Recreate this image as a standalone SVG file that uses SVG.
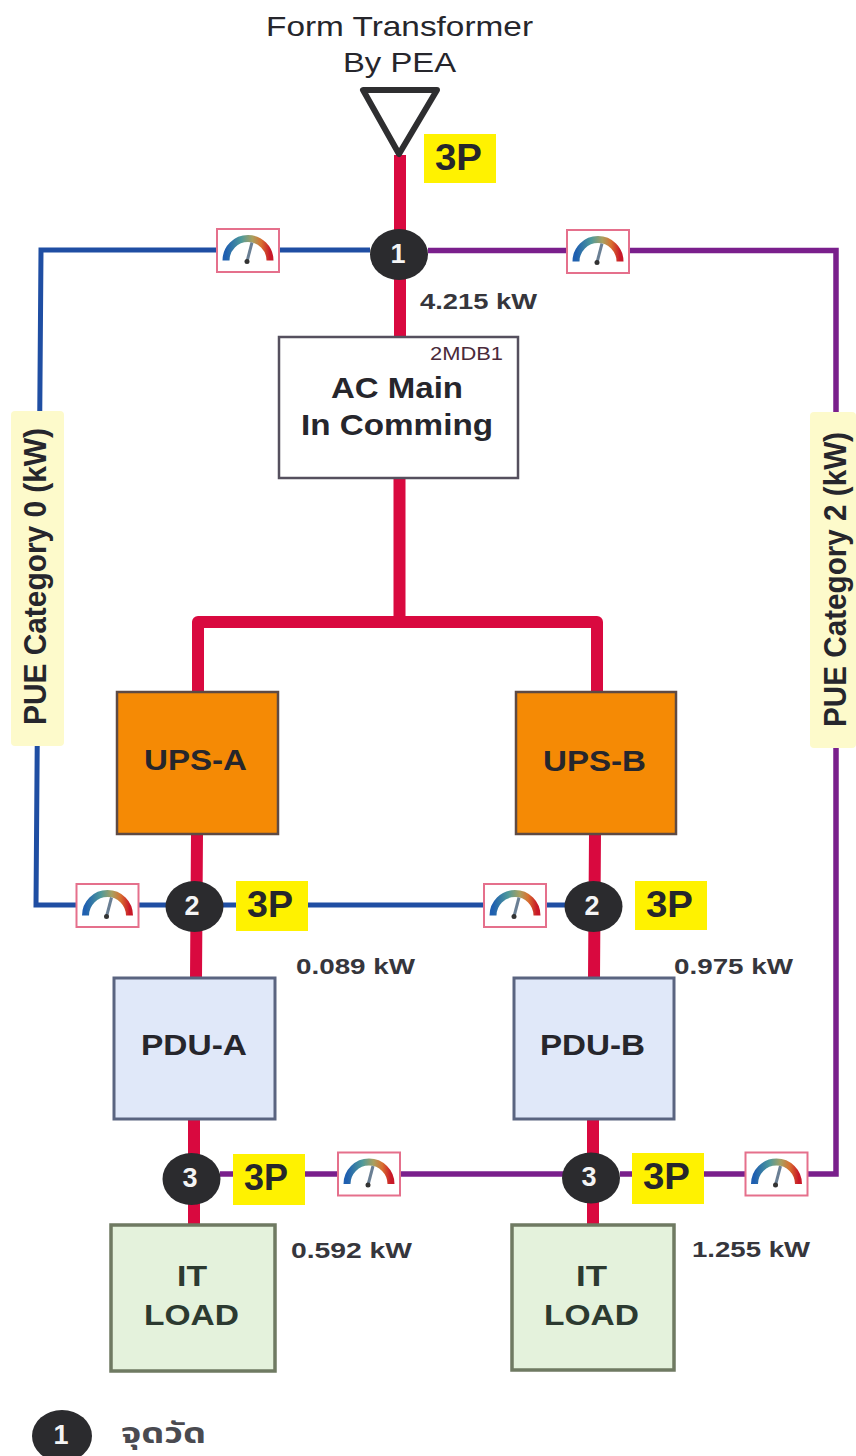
<svg xmlns="http://www.w3.org/2000/svg" width="856" height="1456" viewBox="0 0 856 1456">
<style>
text{font-family:"Liberation Sans",Arial,sans-serif;fill:#26262c}
.b{font-weight:700}
.p{stroke:#d9093f;stroke-width:12;fill:none;stroke-linejoin:round}
.bl{stroke:#1f4ea3;stroke-width:5;fill:none}
.pu{stroke:#7a1f8c;stroke-width:5.500;fill:none}
.c{fill:#2b2b2e}
.n{fill:#f4f4f4;font-size:27px;font-weight:700;text-anchor:middle}
.t3{font-size:36px;font-weight:700}
.y{fill:#fff200}
.kw{font-size:22px;font-weight:700;fill:#36363c}
.lab{font-size:30px;font-weight:700}
.node{font-size:29px;font-weight:700}
.side{fill:#fdfacb}
.ups{fill:#f58a05;stroke:#5e4a44;stroke-width:2.500}
.pdu{fill:#e0e8f9;stroke:#5a6480;stroke-width:3}
.load{fill:#e4f2dc;stroke:#6f7a62;stroke-width:3.500}
</style>
<defs>
<linearGradient id="g" x1="0" x2="1" y1="0" y2="0">
<stop offset="0" stop-color="#1f5fb0"/><stop offset=".35" stop-color="#4f9a9a"/><stop offset=".6" stop-color="#a8a060"/><stop offset=".8" stop-color="#d87030"/><stop offset="1" stop-color="#c81828"/>
</linearGradient>
<g id="gauge">
<rect x="-31" y="-21.500" width="62" height="43" fill="#fff" stroke="#e5708c" stroke-width="2"/>
<path d="M-22 10A22 22 0 0 1 22 10" fill="none" stroke="url(#g)" stroke-width="7"/>
<path d="M4 -8L-1 11" stroke="#6a7f94" stroke-width="3"/>
<circle cx="-1" cy="11" r="2.500" fill="#333"/>
</g>
</defs>
<g id="connectors">
<path class="bl" d="M370 250H41L36 905H166"/>
<path class="bl" d="M222 905H566"/>
<path class="pu" d="M428 250.500H836V1174H620"/>
<path class="pu" d="M220 1174H564"/>
<path class="p" d="M400 155V336M399.500 478V621M198 692V622H597V692"/>
<path class="p" d="M197 834L196 978M595 834L594 978M194 1119V1226M593 1119V1226"/>
</g>
<g id="source">
<text x="266" y="36" font-size="28" textLength="267" lengthAdjust="spacingAndGlyphs">Form Transformer</text>
<text x="343" y="72" font-size="28" textLength="113" lengthAdjust="spacingAndGlyphs">By PEA</text>
<path d="M363 90H437L399 154Z" fill="#fff" stroke="#2e2e30" stroke-width="6" stroke-linejoin="round"/>
<rect class="y" x="424" y="134" width="72" height="49"/>
<text class="t3" x="435" y="170" textLength="47" lengthAdjust="spacingAndGlyphs">3P</text>
</g>
<g id="gauge-top-left"><use href="#gauge" x="248" y="250.500"/></g>
<g id="gauge-top-right"><use href="#gauge" x="598" y="251.500"/></g>
<g id="gauge-mid-left"><use href="#gauge" x="107.500" y="905.500"/></g>
<g id="gauge-mid-right"><use href="#gauge" x="515" y="905.500"/></g>
<g id="gauge-low-left"><use href="#gauge" x="369" y="1174"/></g>
<g id="gauge-low-right"><use href="#gauge" x="776.500" y="1174"/></g>
<g id="point-1a"><ellipse class="c" cx="399" cy="254.500" rx="29" ry="25.500"/><text class="n" x="398" y="263">1</text></g>
<text class="kw" x="420" y="309" textLength="117" lengthAdjust="spacingAndGlyphs">4.215 kW</text>
<g id="main">
<rect x="279" y="337" width="239" height="141" fill="#fff" stroke="#55505e" stroke-width="2.500"/>
<text x="430" y="360" font-size="19" textLength="73" lengthAdjust="spacingAndGlyphs" style="fill:#4a2a3a">2MDB1</text>
<text class="lab" x="331" y="398" textLength="132" lengthAdjust="spacingAndGlyphs">AC Main</text>
<text class="lab" x="301" y="435" textLength="192" lengthAdjust="spacingAndGlyphs">In Comming</text>
</g>
<g id="side-left"><rect class="side" x="11" y="411" width="53" height="335" rx="4"/><text class="b" transform="translate(46 725) rotate(-90)" font-size="32" textLength="297" lengthAdjust="spacingAndGlyphs">PUE Category 0 (kW)</text></g>
<g id="side-right"><rect class="side" x="810" y="412" width="46" height="336" rx="4"/><text class="b" transform="translate(846 727) rotate(-90)" font-size="32" textLength="295" lengthAdjust="spacingAndGlyphs">PUE Category 2 (kW)</text></g>
<g id="ups-a"><rect class="ups" x="117" y="692" width="161" height="142"/><text class="node" x="144" y="770" textLength="103" lengthAdjust="spacingAndGlyphs">UPS-A</text></g>
<g id="ups-b"><rect class="ups" x="516" y="692" width="160" height="142"/><text class="node" x="543" y="771" textLength="103" lengthAdjust="spacingAndGlyphs">UPS-B</text></g>
<g id="point-2a"><ellipse class="c" cx="194.500" cy="906.500" rx="29" ry="25.500"/><text class="n" x="192" y="915">2</text></g>
<g id="tag-2a"><rect class="y" x="236" y="881" width="72" height="50"/><text class="t3" x="247" y="917" textLength="46" lengthAdjust="spacingAndGlyphs">3P</text></g>
<g id="point-2b"><ellipse class="c" cx="593.500" cy="906.500" rx="29" ry="25.500"/><text class="n" x="592" y="915">2</text></g>
<g id="tag-2b"><rect class="y" x="635" y="881" width="72" height="49"/><text class="t3" x="646" y="917" textLength="47" lengthAdjust="spacingAndGlyphs">3P</text></g>
<text class="kw" x="296" y="974" textLength="119" lengthAdjust="spacingAndGlyphs">0.089 kW</text>
<text class="kw" x="674" y="974" textLength="119" lengthAdjust="spacingAndGlyphs">0.975 kW</text>
<g id="pdu-a"><rect class="pdu" x="114" y="978" width="161" height="141"/><text class="node" x="141" y="1055" textLength="106" lengthAdjust="spacingAndGlyphs">PDU-A</text></g>
<g id="pdu-b"><rect class="pdu" x="514" y="978" width="160" height="141"/><text class="node" x="540" y="1055" textLength="105" lengthAdjust="spacingAndGlyphs">PDU-B</text></g>
<g id="point-3a"><ellipse class="c" cx="191.500" cy="1179" rx="29" ry="26"/><text class="n" x="190" y="1187">3</text></g>
<g id="tag-3a"><rect class="y" x="233" y="1154" width="72" height="51"/><text class="t3" x="244" y="1190" textLength="44" lengthAdjust="spacingAndGlyphs">3P</text></g>
<g id="point-3b"><ellipse class="c" cx="591" cy="1178" rx="29" ry="25.500"/><text class="n" x="589" y="1186">3</text></g>
<g id="tag-3b"><rect class="y" x="632" y="1153" width="72" height="51"/><text class="t3" x="643" y="1189" textLength="47" lengthAdjust="spacingAndGlyphs">3P</text></g>
<text class="kw" x="291" y="1258" textLength="121" lengthAdjust="spacingAndGlyphs">0.592 kW</text>
<text class="kw" x="692" y="1257" textLength="118" lengthAdjust="spacingAndGlyphs">1.255 kW</text>
<g id="load-a"><rect class="load" x="111" y="1225" width="164" height="146"/><text class="node" x="177" y="1286" textLength="30" lengthAdjust="spacingAndGlyphs" style="fill:#2c3a30">IT</text><text class="node" x="144" y="1325" textLength="95" lengthAdjust="spacingAndGlyphs" style="fill:#2c3a30">LOAD</text></g>
<g id="load-b"><rect class="load" x="512" y="1225" width="162" height="145"/><text class="node" x="576" y="1286" textLength="31" lengthAdjust="spacingAndGlyphs" style="fill:#2c3a30">IT</text><text class="node" x="544" y="1325" textLength="95" lengthAdjust="spacingAndGlyphs" style="fill:#2c3a30">LOAD</text></g>
<g id="legend"><ellipse class="c" cx="62" cy="1436" rx="30" ry="26"/><text class="n" x="61" y="1444">1</text><text x="121" y="1443" font-size="29" font-weight="700" textLength="85" lengthAdjust="spacingAndGlyphs" style="font-family:'Noto Sans Thai','Noto Sans','DejaVu Sans','Liberation Sans',sans-serif;fill:#4a4a50">จุดวัด</text></g>
</svg>
